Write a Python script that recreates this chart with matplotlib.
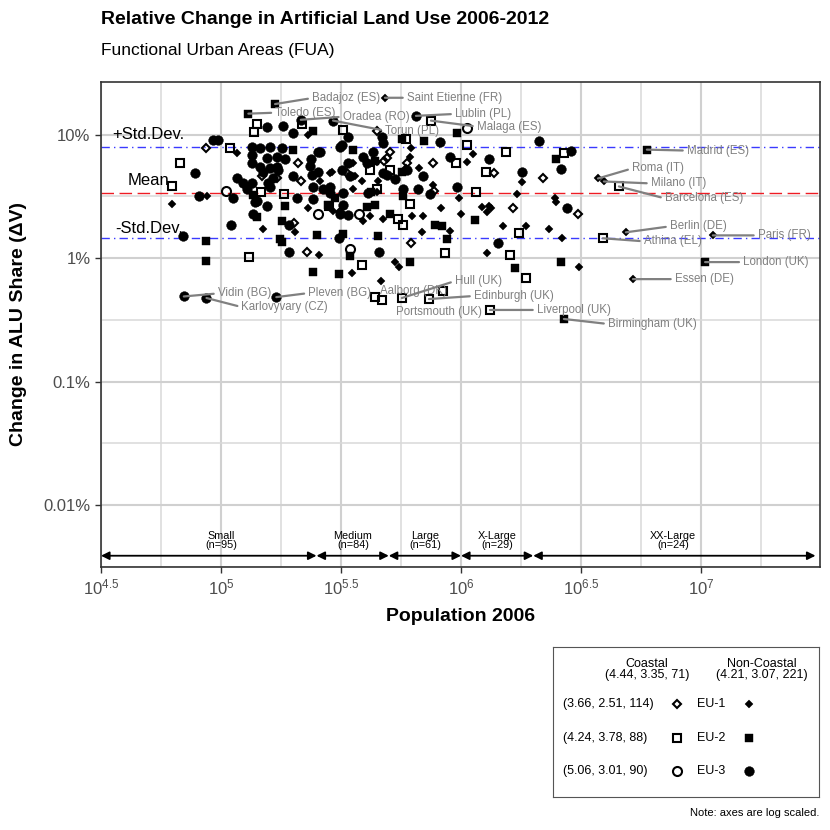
import numpy as np
import matplotlib
matplotlib.use('Agg')
import matplotlib.pyplot as plt

plt.rcParams['font.family'] = ['Liberation Sans', 'DejaVu Sans']
plt.rcParams['mathtext.fontset'] = 'custom'
plt.rcParams['mathtext.rm'] = 'Liberation Sans'
plt.rcParams['mathtext.it'] = 'Liberation Sans:italic'
plt.rcParams['mathtext.bf'] = 'Liberation Sans:bold'

# population 2006 in thousands, change in ALU share in %
eu1_coastal_pop = [446, 86.6, 209, 148, 171, 215, 335, 491, 506, 477, 595, 590, 764, 771,
                   201, 228, 313, 619, 1372, 2194, 1646, 3071]
eu1_coastal_chg = [10.8, 7.85, 5.95, 4.59, 4.42, 4.18, 4.94, 6.53, 7.3, 6.17, 5.95, 5.32, 5.85, 3.47,
                   1.92, 1.12, 2.35, 1.32, 4.94, 4.42, 2.57, 2.3]

eu1_inland_pop = [482, 3721, 3939, 4864, 11200, 5203, 230, 116.5, 62.5, 87.4, 150, 230, 203, 256,
                  351, 258, 284, 361, 446, 387, 451, 293, 390, 418, 446, 531, 551, 464, 473, 624,
                  694, 825, 687, 999, 980, 668, 613, 1058, 619, 1121, 1794, 1709, 1222, 1307, 1333,
                  1282, 2462, 2486, 899, 1495, 1864, 2324, 2632, 1282, 3099, 290, 355, 355, 764]
eu1_inland_chg = [19.9, 4.42, 4.18, 1.62, 1.53, 0.677, 10.0, 7.16, 2.77, 3.16, 1.71, 2.57, 1.62, 1.06,
                  0.757, 4.18, 4.94, 4.59, 6.06, 4.18, 4.18, 2.39, 1.99, 2.18, 3.41, 0.93, 0.847, 0.653,
                  2.06, 2.18, 2.18, 2.57, 1.62, 2.26, 3.1, 5.42, 6.65, 6.06, 7.85, 7.03, 4.11, 3.34,
                  2.62, 2.67, 2.53, 2.35, 3.05, 2.83, 1.65, 1.81, 1.81, 1.71, 1.45, 1.10, 0.847, 5.03,
                  5.95, 3.6, 3.88]

eu2_coastal_pop = [749, 4549, 3900, 1320, 735, 567, 438, 468, 841, 141, 137, 217, 322, 590, 109,
                   67.5, 62.5, 147, 183, 282, 418, 506, 446, 613, 546, 573, 1058, 952, 1270, 1539,
                   2684, 1153, 1743, 1599, 1864, 857, 131, 387]
eu2_coastal_chg = [13.0, 3.81, 1.45, 0.381, 0.467, 0.476, 0.484, 0.458, 0.542, 12.3, 10.6, 12.3, 11.0,
                   9.3, 7.85, 5.95, 3.81, 3.41, 3.28, 2.65, 5.22, 5.22, 3.6, 2.77, 2.06, 1.85, 8.3,
                   5.95, 5.03, 7.3, 7.16, 3.41, 1.59, 1.06, 0.69, 1.10, 1.02, 0.88]

eu2_inland_pop = [168, 130, 5950, 10400, 2684, 242, 567, 701, 961, 200, 87, 87, 136, 185, 141, 180,
                  176, 180, 251, 242, 310, 355, 438, 422, 298, 405, 438, 451, 322, 345, 613, 506,
                  567, 573, 779, 833, 873, 1142, 2486, 1677, 2608, 279]
eu2_inland_chg = [17.7, 14.8, 7.57, 0.93, 0.322, 10.8, 9.3, 8.94, 10.4, 7.57, 1.39, 0.945, 3.22, 2.67,
                  2.14, 1.99, 1.42, 1.34, 1.53, 0.77, 0.743, 7.57, 6.17, 3.41, 3.1, 2.62, 2.72, 1.5,
                  1.56, 1.04, 0.93, 2.3, 5.03, 3.16, 1.85, 1.81, 1.42, 2.02, 6.41, 0.83, 0.93, 2.72]

eu3_coastal_pop = [1058, 105, 254, 376, 345]
eu3_coastal_chg = [11.4, 3.47, 2.26, 2.26, 1.18]

eu3_inland_pop = [649, 215, 293, 70, 87, 170, 155, 181, 200, 338, 319, 468, 817, 93, 97, 135, 135,
                  135, 78, 160, 180, 145, 155, 171, 185, 160, 145, 173, 165, 157, 239, 254, 242, 266,
                  319, 345, 390, 430, 473, 405, 491, 595, 237, 254, 235, 258, 117, 124, 135, 128, 81,
                  112, 139, 136, 110, 69.5, 141, 155, 207, 242, 192, 192, 284, 313, 338, 473, 284,
                  322, 322, 338, 313, 410, 310, 455, 573, 662, 694, 531, 961, 742, 899, 1307, 2111,
                  2870, 2608, 1794, 2761, 1426, 200, 171, 150, 160]
eu3_inland_chg = [14.2, 13.2, 13.0, 0.49, 0.476, 0.484, 11.6, 11.8, 10.4, 9.6, 8.3, 9.6, 8.8, 9.1, 9.1,
                  8.0, 6.8, 5.95, 4.9, 8.0, 7.85, 7.85, 6.5, 6.65, 6.3, 5.4, 5.5, 5.2, 4.5, 4.1, 4.76,
                  5.0, 3.8, 3.6, 5.2, 4.6, 6.65, 7.3, 8.6, 5.95, 4.76, 5.2, 6.3, 7.2, 5.6, 7.3, 4.5,
                  4.1, 4.1, 3.6, 3.16, 3.1, 2.83, 2.26, 1.85, 1.50, 2.88, 2.67, 3.1, 3.0, 1.85, 1.12,
                  3.74, 8.0, 5.95, 4.9, 3.4, 3.4, 2.72, 2.22, 2.26, 3.4, 1.45, 1.12, 3.6, 3.6, 4.67,
                  4.34, 3.8, 3.28, 6.65, 6.3, 8.94, 7.43, 5.3, 5.0, 2.57, 1.32, 4.6, 5.5, 5.0, 3.8]

# labelled FUAs
city_names = ['Badajoz (ES)', 'Toledo (ES)', 'Saint Etienne (FR)', 'Oradea (RO)', 'Torun (PL)',
              'Lublin (PL)', 'Malaga (ES)', 'Madrid (ES)', 'Roma (IT)', 'Milano (IT)',
              'Barcelona (ES)', 'Berlin (DE)', 'Athina (EL)', 'Paris (FR)', 'London (UK)',
              'Essen (DE)', 'Liverpool (UK)', 'Birmingham (UK)', 'Edinburgh (UK)', 'Hull (UK)',
              'Portsmouth (UK)', 'Aalborg (DK)', 'Vidin (BG)', 'Karlovyvary (CZ)', 'Pleven (BG)']
city_pop = [168, 130, 482, 215, 293, 649, 749, 5950, 3721, 3939, 4549, 4864, 3900, 11200, 10400,
            5203, 1320, 2684, 735, 567, 841, 468, 70, 87, 170]
city_chg = [17.7, 14.8, 19.9, 13.2, 13.0, 14.2, 13.0, 7.57, 4.42, 4.18, 3.81, 1.62, 1.45, 1.53, 0.93,
            0.677, 0.381, 0.322, 0.467, 0.476, 0.542, 0.458, 0.49, 0.476, 0.484]
# label offsets (points) and whether a segment is drawn
city_dx = [26.6, 19.4, 15.8, 30.2, 37.4, 28.1, 33.1, 28.8, 24.5, 33.8, 33.1, 31.7, 29.5, 32.4, 27.4,
           30.2, 33.8, 31.7, 32.4, 38.2, -33.8, -1.4, 24.5, 25.2, 23.0]
city_dy = [4.3, 0.7, 0.0, 2.2, -7.2, 1.4, -4.3, -0.7, 7.2, -1.4, -8.6, 4.3, -2.2, 0.0, 0.0,
           0.0, 0.0, -3.6, 2.2, 12.2, -15.1, 6.5, 2.2, -6.5, 2.9]
city_seg = [1] * 20 + [0, 0] + [1, 1, 1]

chg_mean = 3.39
chg_sd_hi = 7.9
chg_sd_lo = 1.455

class_names = ['Small', 'Medium', 'Large', 'X-Large', 'XX-Large']
class_n = [95, 84, 61, 29, 24]
class_bounds = [31.62, 250, 500, 1000, 2000, 30000]
class_mid = [100, 355, 707, 1414, 7640]

legend_rows = ['EU-1', 'EU-2', 'EU-3']
legend_row_stats = ['(3.66, 2.51, 114)', '(4.24, 3.78, 88)', '(5.06, 3.01, 90)']
legend_col_stats = ['(4.44, 3.35, 71)', '(4.21, 3.07, 221)']

fig = plt.figure(figsize=(8.3, 8.3), dpi=100)
ax = fig.add_axes([0.1217, 0.3169, 0.8663, 0.5843])

ax.set_xscale('log')
ax.set_yscale('log')
ax.set_xlim(10 ** 4.5, 10 ** 7.496)
ax.set_ylim(0.00328, 26.7)

xt = 10 ** np.arange(4.5, 7.01, 0.5)
ax.set_xticks(xt)
ax.set_xticklabels([r'$10^{%g}$' % v for v in np.arange(4.5, 7.01, 0.5)])
ax.set_xticks(10 ** np.arange(4.75, 7.5, 0.5), minor=True)
ax.set_yticks([0.01, 0.1, 1, 10])
ax.set_yticklabels(['0.01%', '0.1%', '1%', '10%'])
ax.set_yticks(10 ** np.arange(-2.5, 1.4, 1.0), minor=True)
ax.tick_params(which='major', labelsize=12, labelcolor='#4d4d4d', color='#333333',
               length=4, width=1)
ax.tick_params(which='minor', length=0)
ax.grid(which='major', color='#d0d0d0', lw=1.5)
ax.grid(which='minor', color='#d9d9d9', lw=1.1)
ax.set_axisbelow(True)
for s in ax.spines.values():
    s.set_color('#333333')
    s.set_linewidth(1.2)

ax.axhline(chg_mean, color='#ee1c24', ls=(0, (9, 4)), lw=1.0, zorder=1.5)
ax.axhline(chg_sd_hi, color='#3a3aff', ls=(0, (6, 3, 1, 3)), lw=1.0, zorder=1.5)
ax.axhline(chg_sd_lo, color='#3a3aff', ls=(0, (6, 3, 1, 3)), lw=1.0, zorder=1.5)
for txt, val, off in [('+Std.Dev.', chg_sd_hi, 9), ('Mean', chg_mean, 9), ('-Std.Dev.', chg_sd_lo, 7)]:
    ax.annotate(txt, xy=(50000, val), xytext=(0, off), textcoords='offset points',
                ha='center', va='center', fontsize=12)

def pts(pop, chg, **kw):
    ax.plot(np.array(pop) * 1000, chg, ls='none', mec='black', zorder=3, **kw)

pts(eu1_inland_pop, eu1_inland_chg, marker='D', ms=3.6, mfc='black', mew=0.3)
pts(eu2_inland_pop, eu2_inland_chg, marker='s', ms=5.5, mfc='black', mew=0.3)
pts(eu3_inland_pop, eu3_inland_chg, marker='o', ms=7.0, mfc='black', mew=0.3)
pts(eu1_coastal_pop, eu1_coastal_chg, marker='D', ms=4.2, mfc='none', mew=1.5)
pts(eu2_coastal_pop, eu2_coastal_chg, marker='s', ms=5.3, mfc='none', mew=1.5)
pts(eu3_coastal_pop, eu3_coastal_chg, marker='o', ms=6.5, mfc='none', mew=1.5)

for name, p, c, dx, dy, seg in zip(city_names, city_pop, city_chg, city_dx, city_dy, city_seg):
    props = None
    if seg:
        props = dict(arrowstyle='-', color='#808080', lw=1.6, shrinkA=1, shrinkB=0,
                     relpos=(0, 0.5))
    ax.annotate(name, xy=(p * 1000, c), xytext=(dx, dy), textcoords='offset points',
                ha='left', va='center', fontsize=8.3, color='#808080',
                arrowprops=props, zorder=4)

# size classes along the bottom
for i in range(len(class_names)):
    ax.annotate('', xy=(class_bounds[i + 1] * 1000, 0.0039), xytext=(class_bounds[i] * 1000, 0.0039),
                arrowprops=dict(arrowstyle='<|-|>', color='black', lw=1.3, mutation_scale=12,
                                shrinkA=0, shrinkB=0))
    ax.text(class_mid[i] * 1000, 0.0043, '%s\n(n=%d)' % (class_names[i], class_n[i]),
            ha='center', va='bottom', fontsize=7.8, linespacing=0.95)

ax.set_xlabel('Population 2006', fontsize=14, fontweight='bold', labelpad=8)
fig.text(0.0217, 0.6091, 'Change in ALU Share (\u0394V)', rotation=90, ha='center', va='center',
         fontsize=14, fontweight='bold')
fig.text(0.1217, 0.976, 'Relative Change in Artificial Land Use 2006-2012', ha='left', va='center',
         fontsize=14, fontweight='bold')
fig.text(0.1217, 0.9386, 'Functional Urban Areas (FUA)', ha='left', va='center', fontsize=12.5)

# legend box
lax = fig.add_axes([0.6663, 0.0398, 0.3205, 0.1807])
lax.set_xlim(0, 1)
lax.set_ylim(0, 1)
lax.set_xticks([])
lax.set_yticks([])
for s in lax.spines.values():
    s.set_color('#555555')
    s.set_linewidth(0.8)
lax.text(0.353, 0.85, 'Coastal\n' + legend_col_stats[0], ha='center', va='center', fontsize=9,
         linespacing=0.95)
lax.text(0.786, 0.85, 'Non-Coastal\n' + legend_col_stats[1], ha='center', va='center', fontsize=9,
         linespacing=0.95)
row_y = [0.62, 0.393, 0.173]
row_mk = [('D', 4.2, 3.6), ('s', 5.3, 5.5), ('o', 6.5, 7.0)]
for y, lab, st, (m, ms_o, ms_f) in zip(row_y, legend_rows, legend_row_stats, row_mk):
    lax.text(0.0376, y, st, ha='left', va='center', fontsize=9)
    lax.plot([0.466], [y], marker=m, ms=ms_o, mfc='none', mec='black', mew=1.5)
    lax.text(0.541, y, lab, ha='left', va='center', fontsize=9)
    lax.plot([0.737], [y], marker=m, ms=ms_f, mfc='black', mec='black', mew=0.3)
fig.text(0.9867, 0.0205, 'Note: axes are log scaled.', ha='right', va='center', fontsize=8)

fig.savefig('out.png', dpi=100)
